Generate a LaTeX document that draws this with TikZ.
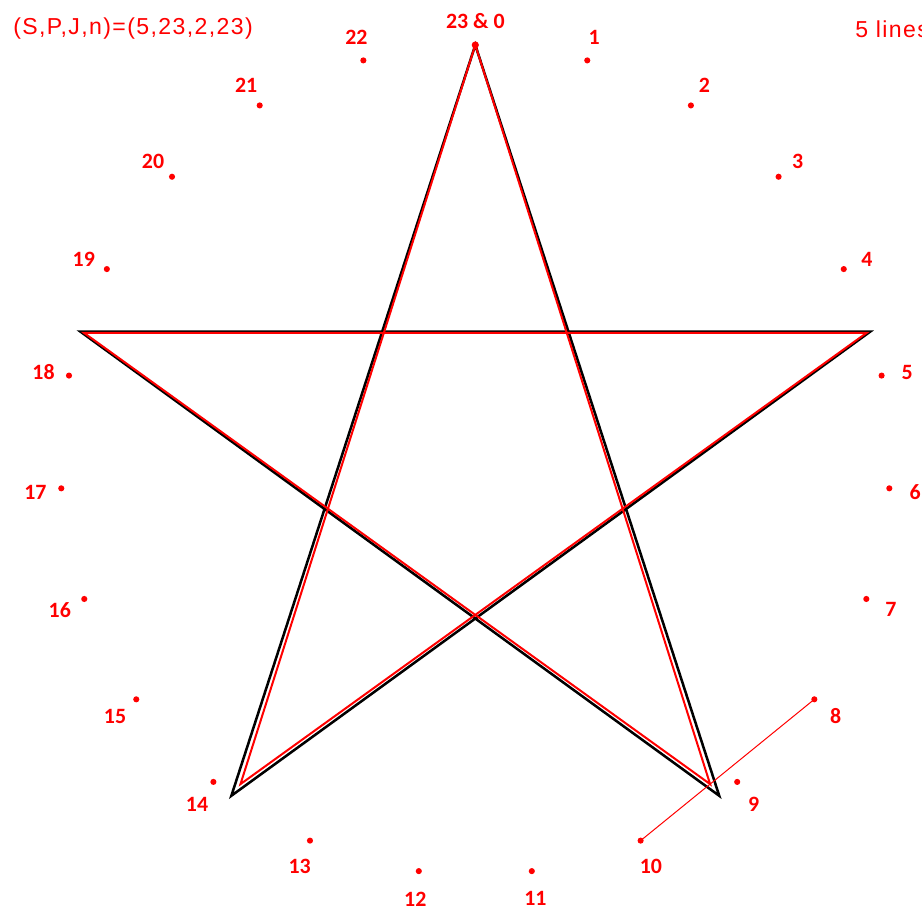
\documentclass[tikz,border=0pt]{standalone}
\usepackage{fontspec}
\setmainfont{Liberation Sans}
\newfontfamily\lblfont{Carlito}
\newfontfamily\ttlfont[LetterSpace=6]{Liberation Sans}
\usetikzlibrary{calc}
\begin{document}
\begin{tikzpicture}[x=0.75pt,y=-0.75pt,
  dotnode/.style={circle,fill=red,inner sep=0pt,minimum size=4.6pt},
  bigdot/.style={circle,fill=red,inner sep=0pt,minimum size=5.4pt},
  lbl/.style={text=red,font=\lblfont\bfseries\fontsize{16.4}{18}\selectfont,inner sep=0pt},
  titletext/.style={text=red,font=\ttlfont\fontsize{17.3}{20}\selectfont,inner sep=0pt},
  blackstar/.style={draw=black,line width=1.9pt,line join=miter},
  redstar/.style={draw=red,line width=1.5pt,line join=miter},
  thinred/.style={draw=red,line width=0.75pt}]
\useasboundingbox (0,0) rectangle (922,910);
\clip (0,0) rectangle (922,910);
% points on the circle
\foreach \k in {0,...,22}{
  \pgfmathsetmacro\ang{90-\k*360/23}
  \coordinate (P\k) at ({475.3+415*cos(\ang)},{460-415*sin(\ang)});
  \coordinate (Q\k) at ({475.3+441*cos(\ang)},{462-441*sin(\ang)});
}
% regular pentagram vertices
\coordinate (K0) at (P0);
\coordinate (K1) at ({475.3+415*cos(18)},{460-415*sin(18)});
\coordinate (K2) at ({475.3+415*cos(-54)},{460-415*sin(-54)});
\coordinate (K3) at ({475.3+415*cos(-126)},{460-415*sin(-126)});
\coordinate (K4) at ({475.3+415*cos(162)},{460-415*sin(162)});
% approximated vertices on chords
\coordinate (B) at ($(P4)!0.6!(P5)$);
\coordinate (C) at ($(P8)!0.6!(P10)$);
\coordinate (D) at ($(P13)!0.4!(P15)$);
\coordinate (E) at ($(P18)!0.4!(P19)$);
% black star
\draw[blackstar] (K0) -- (K2) -- (K4) -- (K1) -- (K3) -- cycle;
% red star
\draw[redstar] (K0) -- (C) -- (E) -- (B) -- (D) -- cycle;
% dots
\foreach \k in {1,...,22}{
  \node[dotnode] (D\k) at (P\k) {};
}
\node[bigdot] (D0) at (P0) {};
% chord 8-10
\draw[thinred] (D8.center) -- (D10.center);
% labels
\node[lbl] (L0) at (Q0) {23 \& 0};
\foreach \k in {1,...,22}{
  \node[lbl] (L\k) at (Q\k) {\k};
}
% texts
\node[titletext,anchor=west] (title) at (13,29) {(S,P,J,n)=(5,23,2,23)};
\node[titletext,anchor=west] (lines) at (855,29) {5 lines};
\end{tikzpicture}
\end{document}
